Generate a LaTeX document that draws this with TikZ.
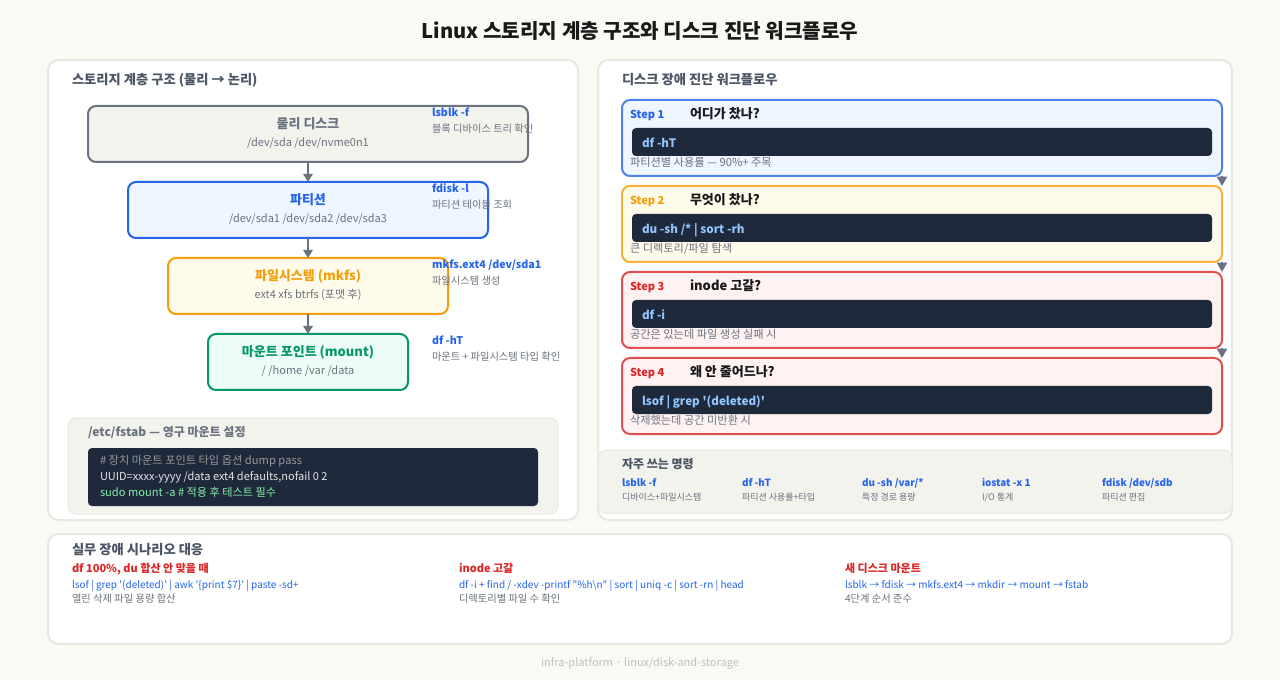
\documentclass[tikz,border=0pt]{standalone}
\usepackage{fontspec}
\usepackage{xcolor}
\usetikzlibrary{arrows.meta}
\newfontfamily\krfont{Noto Sans CJK KR}
\newcommand{\fpx}[1]{\krfont\fontsize{#1}{#1}\selectfont}
\definecolor{pagebg}{HTML}{FAFAF5}
\definecolor{panelline}{HTML}{E8E8E0}
\definecolor{softbg}{HTML}{F3F3ED}
\definecolor{txtgray}{HTML}{6B7280}
\definecolor{headgray}{HTML}{4B5563}
\definecolor{cblue}{HTML}{2563EB}
\definecolor{corange}{HTML}{F59E0B}
\definecolor{cgreen}{HTML}{059669}
\definecolor{cred}{HTML}{DC2626}
\definecolor{cdark}{HTML}{1E293B}
\definecolor{cmdblue}{HTML}{93C5FD}
\definecolor{cmdgreen}{HTML}{86EFAC}
\definecolor{bluebg}{HTML}{EFF6FF}
\definecolor{orangebg}{HTML}{FFFBEB}
\definecolor{greenbg}{HTML}{ECFDF5}
\definecolor{redbg}{HTML}{FEF2F2}
\tikzstyle{box}=[draw, shape=rectangle, rounded corners=6, inner sep=0pt, outer sep=0pt, line width=1.5pt]
\tikzstyle{panel}=[draw=panelline, fill=white, shape=rectangle, rounded corners=8, inner sep=0pt, outer sep=0pt, line width=1.5pt]
\tikzstyle{soft}=[fill=softbg, draw=panelline, shape=rectangle, rounded corners=6, inner sep=0pt, outer sep=0pt, line width=.75pt]
\tikzstyle{code}=[fill=cdark, shape=rectangle, rounded corners=3, inner sep=0pt, outer sep=0pt]
\tikzstyle{stepbox}=[box, minimum width=450pt, minimum height=57pt, draw opacity=.8]
\tikzstyle{codebar}=[code, minimum width=435pt, minimum height=21pt]
\tikzstyle{txt}=[anchor=base west, inner sep=0pt, outer sep=0pt]
\tikzstyle{mid}=[anchor=base, inner sep=0pt, outer sep=0pt]
\tikzstyle{head}=[txt, font=\fpx{9.95}\bfseries, text=headgray]
\tikzstyle{steplbl}=[txt, font=\fpx{8.25}\bfseries]
\tikzstyle{stepttl}=[txt, font=\fpx{9.75}\bfseries, text=black!90]
\tikzstyle{stepcmd}=[txt, font=\fpx{8.75}\bfseries, text=cmdblue]
\tikzstyle{small}=[txt, font=\fpx{7.5}, text=txtgray]
\tikzstyle{note}=[txt, font=\fpx{7.7}, text=txtgray]
\tikzstyle{stepnote}=[txt, font=\fpx{8.4}, text=txtgray]
\tikzstyle{cmd}=[txt, font=\fpx{8}\bfseries, text=cblue]
\tikzstyle{freqcmd}=[txt, font=\fpx{7.4}\bfseries, text=cblue]
\tikzstyle{scen}=[txt, font=\fpx{8.25}\bfseries, text=cred]
\tikzstyle{tiny}=[txt, font=\fpx{6.75}, text=txtgray]
\tikzstyle{boxttl}=[mid, font=\fpx{9.75}\bfseries]
\tikzstyle{boxsub}=[mid, font=\fpx{8.25}, text=txtgray]
\tikzstyle{flow}=[draw=txtgray, line width=1.5pt, -{Triangle[length=6pt,width=7pt]}]
\tikzstyle{stepflow}=[draw=txtgray, line width=1.5pt, -{Triangle[length=7pt,width=7.5pt]}]
\begin{document}
\begin{tikzpicture}[x=.75pt, y=-.75pt]
\path[fill=pagebg, use as bounding box] (0,0) rectangle (1280,680);
\node[mid, font=\fpx{15.1}\bfseries, text=black!90] (title) at (640,39) {Linux 스토리지 계층 구조와 디스크 진단 워크플로우};
%
\node[panel, minimum width=397.5pt, minimum height=345pt] (left) at (313,290) {};
\node[panel, minimum width=475.5pt, minimum height=345pt] (right) at (915,290) {};
\node[panel, minimum width=888pt, minimum height=82.5pt] (bottom) at (640,589) {};
\node[head] (lefthead) at (72,85) {스토리지 계층 구조 (물리 → 논리)};
\node[head] (righthead) at (622,85) {디스크 장애 진단 워크플로우};
%
\node[box, draw=txtgray, fill=softbg, minimum width=330pt, minimum height=42pt] (disk) at (308,134) {};
\node[box, draw=cblue, fill=bluebg, minimum width=270pt, minimum height=42pt] (part) at (308,210) {};
\node[box, draw=corange, fill=orangebg, minimum width=210pt, minimum height=42pt] (fs) at (308,286) {};
\node[box, draw=cgreen, fill=greenbg, minimum width=150pt, minimum height=42pt] (mnt) at (308,362) {};
\draw[flow] (disk) -- (part);
\draw[flow] (part) -- (fs);
\draw[flow] (fs) -- (mnt);
\node[boxttl, text=txtgray] (diskttl) at (308,129) {물리 디스크};
\node[boxsub] (disksub) at (308,147) {/dev/sda /dev/nvme0n1};
\node[boxttl, text=cblue] (partttl) at (308,205) {파티션};
\node[boxsub] (partsub) at (308,223) {/dev/sda1 /dev/sda2 /dev/sda3};
\node[boxttl, text=corange] (fsttl) at (308,281) {파일시스템 (mkfs)};
\node[boxsub] (fssub) at (308,299) {ext4 xfs btrfs (포맷 후)};
\node[boxttl, text=cgreen] (mntttl) at (308,357) {마운트 포인트 (mount)};
\node[boxsub] (mntsub) at (308,375) {/ /home /var /data};
%
\node[cmd] (diskcmd) at (432,117) {lsblk -f};
\node[note] (disknote) at (432,133) {블록 디바이스 트리 확인};
\node[cmd] (partcmd) at (432,193) {fdisk -l};
\node[note] (partnote) at (432,209) {파티션 테이블 조회};
\node[cmd] (fscmd) at (432,269) {mkfs.ext4 /dev/sda1};
\node[note] (fsnote) at (432,285) {파일시스템 생성};
\node[cmd] (mntcmd) at (432,345) {df -hT};
\node[note] (mntnote) at (432,361) {마운트 + 파일시스템 타입 확인};
%
\node[soft, minimum width=367.5pt, minimum height=72pt] (fstab) at (313,466) {};
\node[txt, font=\fpx{9}\bfseries, text=txtgray] (fstabhead) at (88,436) {/etc/fstab — 영구 마운트 설정};
\node[code, minimum width=337.5pt, minimum height=43.5pt] (fstabcode) at (313,477) {};
\node[txt, font=\fpx{8.4}, text=black!40] (fstabone) at (100,464) {\# 장치 마운트 포인트 타입 옵션 dump pass};
\node[txt, font=\fpx{8.25}, text=white!90!black] (fstabtwo) at (100,480) {UUID=xxxx-yyyy /data ext4 defaults,nofail 0 2};
\node[txt, font=\fpx{8.35}, text=cmdgreen] (fstabthree) at (100,496) {sudo mount -a \# 적용 후 테스트 필수};
%
\node[stepbox, draw=cblue, fill=bluebg] (stepa) at (922,138) {};
\node[stepbox, draw=corange, fill=orangebg] (stepb) at (922,224) {};
\node[stepbox, draw=cred, fill=redbg] (stepc) at (922,310) {};
\node[stepbox, draw=cred, fill=redbg] (stepd) at (922,396) {};
\draw[stepflow] (stepa.south east) -- (stepb.north east);
\draw[stepflow] (stepb.south east) -- (stepc.north east);
\draw[stepflow] (stepc.south east) -- (stepd.north east);
\node[steplbl, text=cblue] (stepalbl) at (630,119) {Step 1};
\node[stepttl] (stepattl) at (690,119) {어디가 찼나?};
\node[codebar] (stepabar) at (922,142) {};
\node[stepcmd] (stepacmd) at (642,148) {df -hT};
\node[stepnote] (stepanote) at (630,167) {파티션별 사용률 — 90\%+ 주목};
\node[steplbl, text=corange] (stepblbl) at (630,205) {Step 2};
\node[stepttl] (stepbttl) at (690,205) {무엇이 찼나?};
\node[codebar] (stepbbar) at (922,228) {};
\node[stepcmd] (stepbcmd) at (642,234) {du -sh /* | sort -rh};
\node[stepnote] (stepbnote) at (630,253) {큰 디렉토리/파일 탐색};
\node[steplbl, text=cred] (stepclbl) at (630,291) {Step 3};
\node[stepttl] (stepcttl) at (690,291) {inode 고갈?};
\node[codebar] (stepcbar) at (922,314) {};
\node[stepcmd] (stepccmd) at (642,320) {df -i};
\node[stepnote] (stepcnote) at (630,339) {공간은 있는데 파일 생성 실패 시};
\node[steplbl, text=cred] (stepdlbl) at (630,377) {Step 4};
\node[stepttl] (stepdttl) at (690,377) {왜 안 줄어드나?};
\node[codebar] (stepdbar) at (922,400) {};
\node[stepcmd] (stepdcmd) at (642,406) {lsof | grep '(deleted)'};
\node[stepnote] (stepdnote) at (630,425) {삭제했는데 공간 미반환 시};
%
\node[soft, minimum width=475.5pt, minimum height=47.25pt] (freq) at (915,481.5) {};
\node[txt, font=\fpx{9}\bfseries, text=headgray] (freqhead) at (622,468) {자주 쓰는 명령};
\node[freqcmd] (freqa) at (622,486) {lsblk -f};
\node[tiny] (freqanote) at (622,500) {디바이스+파일시스템};
\node[freqcmd] (freqb) at (742,486) {df -hT};
\node[tiny] (freqbnote) at (742,500) {파티션 사용률+타입};
\node[freqcmd] (freqc) at (862,486) {du -sh /var/*};
\node[tiny] (freqcnote) at (862,500) {특정 경로 용량};
\node[freqcmd] (freqd) at (982,486) {iostat -x 1};
\node[tiny] (freqdnote) at (982,500) {I/O 통계};
\node[freqcmd] (freqe) at (1102,486) {fdisk /dev/sdb};
\node[tiny] (freqenote) at (1102,500) {파티션 편집};
%
\node[head] (bottomhead) at (72,554) {실무 장애 시나리오 대응};
\node[scen] (scena) at (72,572) {df 100\%, du 합산 안 맞을 때};
\node[small, text=cblue] (scenacmd) at (72,588) {lsof | grep '(deleted)' | awk '\{print \$7\}' | paste -sd+};
\node[note] (scenanote) at (72,602) {열린 삭제 파일 용량 합산};
\node[scen] (scenb) at (459,572) {inode 고갈};
\node[small, text=cblue] (scenbcmd) at (459,588) {df -i + find / -xdev -printf "\%h\textbackslash n" | sort | uniq -c | sort -rn | head};
\node[note] (scenbnote) at (459,602) {디렉토리별 파일 수 확인};
\node[scen] (scenc) at (845,572) {새 디스크 마운트};
\node[small, text=cblue] (sceccmd) at (845,588) {lsblk → fdisk → mkfs.ext4 → mkdir → mount → fstab};
\node[note] (scencnote) at (845,602) {4단계 순서 준수};
%
\node[mid, font=\fpx{8.25}, text=black!25] (footer) at (640,666) {infra-platform · linux/disk-and-storage};
\end{tikzpicture}
\end{document}
